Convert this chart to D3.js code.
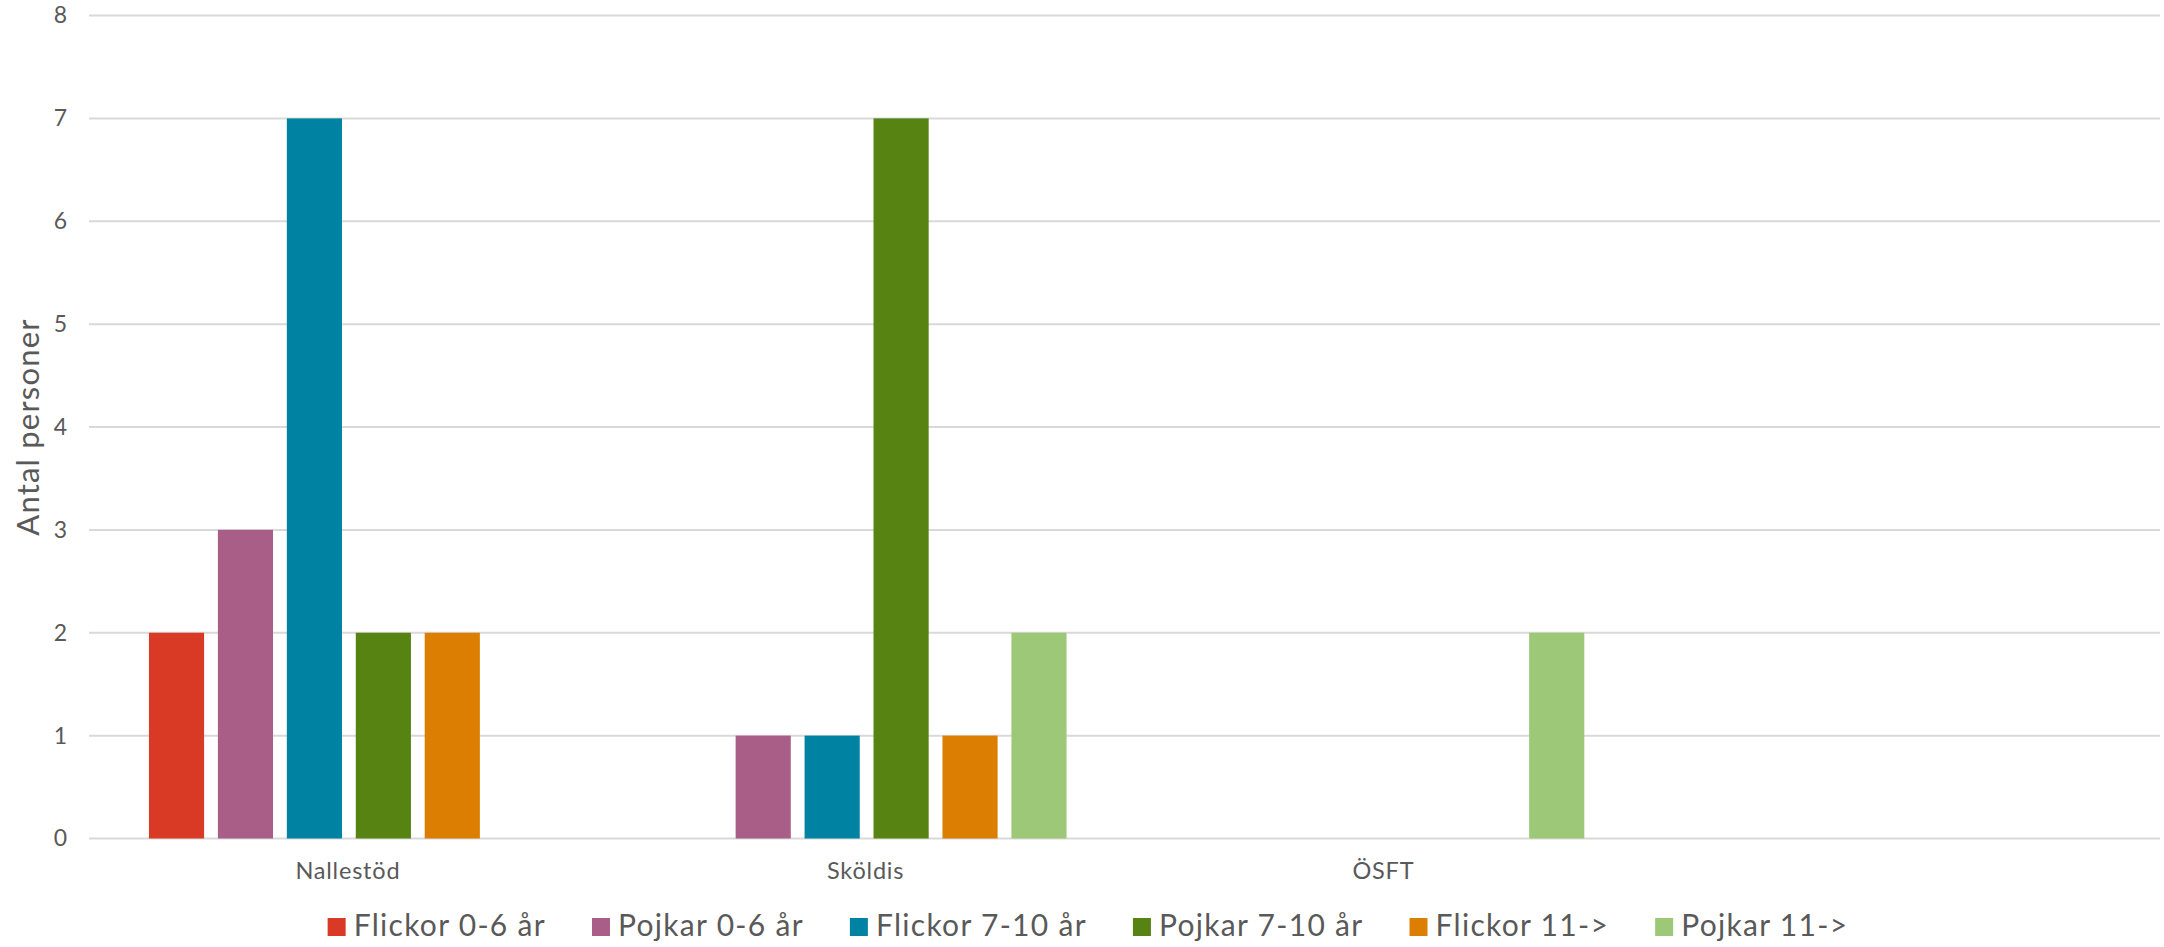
<!DOCTYPE html>
<html>
<head>
<meta charset="utf-8">
<script src="https://cdn.jsdelivr.net/npm/d3@7"></script>
<style>
  body { margin: 0; background: #fff; }
  text { font-family: 'Century Gothic', 'Lato', sans-serif; fill: #595959; }
</style>
</head>
<body>
<div id="chart"></div>
<script>
// data
const categories = ['Nallestöd', 'Sköldis', 'ÖSFT', ''];
const seriesNames = ['Flickor 0-6 år', 'Pojkar 0-6 år', 'Flickor 7-10 år', 'Pojkar 7-10 år', 'Flickor 11->', 'Pojkar 11->'];
const seriesColors = ['#D83A25', '#A95E88', '#0083A3', '#568311', '#DC7E02', '#9DC877'];
const flickor06 = [2, null, null, null];
const pojkar06 = [3, 1, null, null];
const flickor710 = [7, 1, null, null];
const pojkar710 = [2, 7, null, null];
const flickor11 = [2, 1, null, null];
const pojkar11 = [null, 2, 2, null];
const yTicks = [0, 1, 2, 3, 4, 5, 6, 7, 8];
const yTitle = 'Antal personer';

const seriesValues = [flickor06, pojkar06, flickor710, pojkar710, flickor11, pojkar11];

const W = 2164, H = 947;
const margin = { top: 15.5, right: 4, bottom: 108.5, left: 89 };
const width = W - margin.left - margin.right;
const height = H - margin.top - margin.bottom;

const svg = d3.select('#chart').append('svg')
    .attr('width', W)
    .attr('height', H);

const group = svg.append('g')
    .attr('transform', 'translate(' + margin.left + ',' + margin.top + ')');

const x0 = d3.scaleBand().domain(categories).range([0, width]).paddingInner(0).paddingOuter(0);
const x1 = d3.scaleBand().domain(seriesNames).range([0, x0.bandwidth()])
    .paddingInner(0.2).paddingOuter(0.855);
const y = d3.scaleLinear().domain([0, 8]).range([height, 0]);

// gridlines
group.append('g')
    .selectAll('line')
    .data(yTicks)
    .enter()
    .append('line')
    .attr('x1', 0)
    .attr('x2', width)
    .attr('y1', d => y(d))
    .attr('y2', d => y(d))
    .attr('stroke', '#D9D9D9')
    .attr('stroke-width', 2);

// y axis labels
const yAxis = d3.axisLeft(y).tickValues(yTicks).tickSize(0).tickPadding(22);
const yAxisGroup = group.append('g').call(yAxis);
yAxisGroup.select('.domain').remove();
yAxisGroup.selectAll('text')
    .attr('fill', '#595959')
    .style('font-size', '23px');

// bars
const cells = [];
categories.forEach((c, i) => {
    seriesNames.forEach((s, j) => {
        const v = seriesValues[j][i];
        if (v != null) cells.push({ cat: c, series: s, value: v, color: seriesColors[j] });
    });
});

group.selectAll('rect.bar')
    .data(cells)
    .enter()
    .append('rect')
    .attr('class', 'bar')
    .attr('x', d => x0(d.cat) + x1(d.series) + 1)
    .attr('y', d => y(d.value))
    .attr('width', x1.bandwidth())
    .attr('height', d => height - y(d.value))
    .attr('fill', d => d.color);

// x axis labels
const xAxis = d3.axisBottom(x0).tickSize(0).tickPadding(24);
const xAxisGroup = group.append('g')
    .attr('transform', 'translate(0,' + height + ')')
    .call(xAxis);
xAxisGroup.select('.domain').remove();
xAxisGroup.selectAll('text')
    .attr('fill', '#595959')
    .style('font-size', '23.5px')
    .style('letter-spacing', '0.8px');

// y title
svg.append('text')
    .attr('transform', 'translate(39,' + (margin.top + height / 2) + ') rotate(-90)')
    .attr('text-anchor', 'middle')
    .style('font-size', '31px')
    .style('letter-spacing', '1.2px')
    .text(yTitle);

// legend
const legend = svg.append('g');
const items = legend.selectAll('g')
    .data(seriesNames)
    .enter()
    .append('g');
items.append('rect')
    .attr('width', 18)
    .attr('height', 18)
    .attr('y', -18)
    .attr('fill', (d, i) => seriesColors[i]);
items.append('text')
    .attr('x', 26)
    .attr('y', 0)
    .style('font-size', '30px')
    .style('letter-spacing', '1.3px')
    .text(d => d);

let pos = 0;
items.each(function () {
    const tw = d3.select(this).select('text').node().getComputedTextLength();
    d3.select(this).attr('transform', 'translate(' + pos + ',0)');
    pos += 26 + tw + 46;
});
pos -= 46;
legend.attr('transform', 'translate(' + (1088 - pos / 2) + ',936)');
</script>
</body>
</html>
